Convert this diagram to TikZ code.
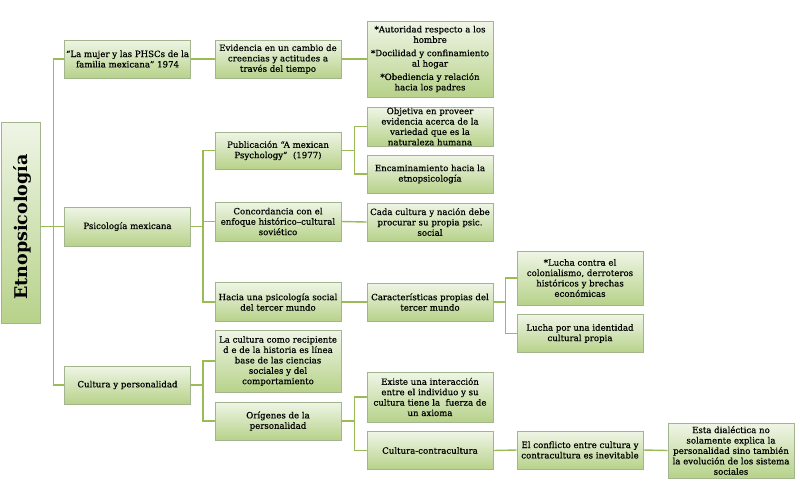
\documentclass[tikz,border=0pt]{standalone}
\usepackage{fontspec}
\setmainfont[FakeBold=0.4]{DejaVu Serif}
\newfontfamily\rootfont{DejaVu Serif}
\definecolor{linegreen}{HTML}{9BBB59}
\definecolor{boxtop}{HTML}{EFF5E6}
\definecolor{boxbot}{HTML}{B7D28A}
\definecolor{boxline}{HTML}{A3B58E}
\tikzset{
  box/.style={draw=boxline, line width=0.8pt, top color=boxtop, bottom color=boxbot,
    minimum width=126, minimum height=38, align=center, inner sep=0pt,
    font=\fontsize{8.6}{10.4}\selectfont, text=black},
  conn/.style={draw=linegreen, line width=1.4pt}
}
\begin{document}
\begin{tikzpicture}[x=1pt,y=-1pt]
\useasboundingbox[fill=white] (0,0) rectangle (800,499);
% root
\node[draw=boxline, line width=0.8pt, top color=boxtop, bottom color=boxbot,
  minimum width=39, minimum height=201, inner sep=0pt] (root) at (20.5,222.5) {};
\node[rotate=90, font=\rootfont\fontsize{17.5}{20}\selectfont\bfseries] (roottxt) at (22,227) {Etnopsicología};
% level 1
\node[box] (mujer) at (127.5,59) {“La mujer y las PHSCs de la\\familia mexicana” 1974};
\node[box, minimum height=39] (psic) at (127.5,226.5) {Psicología mexicana};
\node[box] (cult) at (127.5,385) {Cultura y personalidad};
% level 2
\node[box] (evid) at (278,59) {Evidencia en un cambio de\\creencias y actitudes a\\través del tiempo};
\node[box, minimum height=37] (publ) at (278,150.5) {Publicación “A mexican\\Psychology”\ \ (1977)};
\node[box, minimum height=39] (conc) at (278,221.5) {Concordancia con el\\enfoque histórico–cultural\\soviético};
\node[box, minimum height=39] (hacia) at (278,302) {Hacia una psicología social\\del tercer mundo};
\node[box, minimum height=62] (recip) at (278,361) {La cultura como recipiente\\d e de la historia es línea\\base de las ciencias\\sociales y del\\comportamiento};
\node[box] (orig) at (278,421) {Orígenes de la\\personalidad};
% level 3
\node[box, minimum height=76] (auto) at (430,59) {*Autoridad respecto a los\\hombre\\[3pt]*Docilidad y confinamiento\\al hogar\\[3pt]*Obediencia y relación\\hacia los padres};
\node[box, minimum height=39] (obj) at (430,126.5) {Objetiva en proveer\\evidencia acerca de la\\variedad que es la\\naturaleza humana};
\node[box] (enca) at (430,174) {Encaminamiento hacia la\\etnopsicología};
\node[box] (cada) at (430,222) {Cada cultura y nación debe\\procurar su propia psic.\\social};
\node[box] (cara) at (430,302) {Características propias del\\tercer mundo};
\node[box, minimum height=50] (exis) at (430,397) {Existe una interacción\\entre el individuo y su\\cultura tiene la\ \ fuerza de\\un axioma};
\node[box] (cc) at (430,450.5) {Cultura-contracultura};
% level 4
\node[box, minimum height=54] (lucha1) at (580,278) {*Lucha contra el\\colonialismo, derroteros\\históricos y brechas\\económicas};
\node[box] (lucha2) at (580,333.5) {Lucha por una identidad\\cultural propia};
\node[box] (confl) at (580,450) {El conflicto entre cultura y\\contracultura es inevitable};
% level 5
\node[box, minimum height=55] (dial) at (731,450.5) {Esta dialéctica no\\solamente explica la\\personalidad sino también\\la evolución de los sistema\\sociales};
% connectors
\draw[conn] (root.east |- psic.west) -- (psic.west);
\draw[conn] (root.east |- psic.west) ++(13,0) |- (mujer.west);
\draw[conn] (root.east |- psic.west) ++(13,0) |- (cult.west);
\draw[conn] (mujer.east) -- (evid.west);
\draw[conn] (evid.east) -- (auto.west);
\draw[conn] (psic.east) -- ++(12,0) |- (publ.west);
\draw[conn] (psic.east) ++(12,0) |- (hacia.west);
\draw[conn] (psic.east) ++(12,0) |- (conc.west);
\draw[conn] (publ.east) -- ++(13,0) |- (obj.west);
\draw[conn] (publ.east) ++(13,0) |- (enca.west);
\draw[conn] (conc.east) -- (cada.west);
\draw[conn] (hacia.east) -- (cara.west);
\draw[conn] (cara.east) -- ++(12,0) |- (lucha1.west);
\draw[conn] (cara.east) ++(12,0) |- (lucha2.west);
\draw[conn] (cult.east) -- ++(12,0) |- (recip.west);
\draw[conn] (cult.east) ++(12,0) |- (orig.west);
\draw[conn] (orig.east) -- ++(13,0) |- (exis.west);
\draw[conn] (orig.east) ++(13,0) |- (cc.west);
\draw[conn] (cc.east) -- (confl.west);
\draw[conn] (confl.east) -- (dial.west);
\end{tikzpicture}
\end{document}
